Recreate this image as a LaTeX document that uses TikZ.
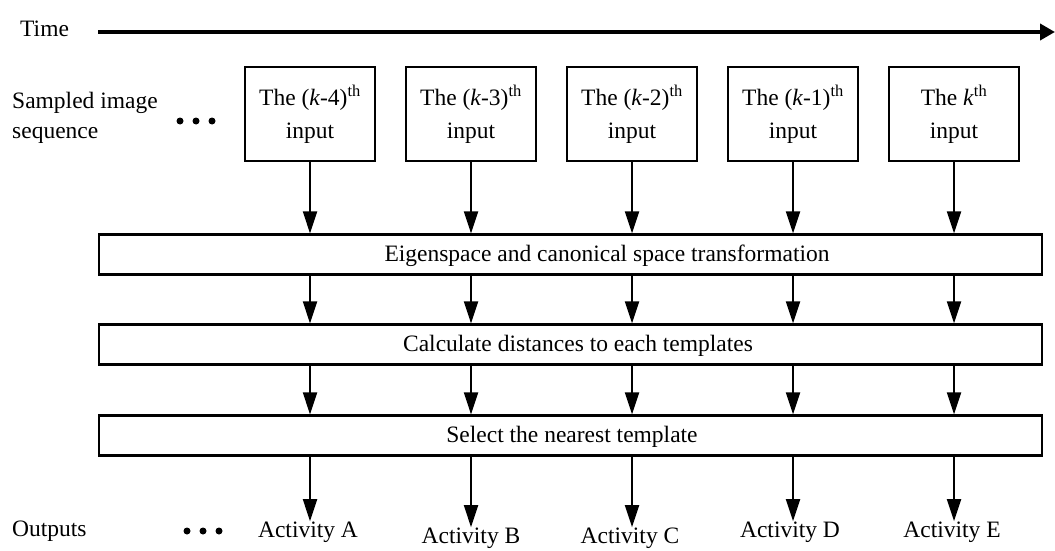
\documentclass[tikz,border=0pt]{standalone}
\usepackage{fontspec}
\setmainfont{Liberation Serif}
\usetikzlibrary{arrows.meta}
\begin{document}
\begin{tikzpicture}[x=1pt,y=-1pt,
  font=\fontsize{23.5}{27}\selectfont,
  inbox/.style={draw,line width=2.2pt,minimum width=130pt,minimum height=94pt,
    align=center,inner sep=0pt},
  wide/.style={draw,line width=2.2pt,minimum width=943pt,minimum height=40pt,inner sep=0pt},
  flow/.style={line width=2pt,-{Triangle[length=22pt,width=14pt]}},
  lbl/.style={inner sep=0pt,anchor=west,align=left},
  dot/.style={circle,fill=black,inner sep=0pt,minimum size=7pt}]
\useasboundingbox (0,0) rectangle (1055,551);

% time axis
\node[lbl] (time) at (20,29) {Time};
\coordinate (t0) at (98,32);
\coordinate (t1) at (1055,32);
\draw[line width=3.8pt,-{Triangle[length=15pt,width=16pt]}] (t0) -- (t1);

% row labels
\node[lbl] (sampled) at (12,118) {Sampled image\\[3pt]sequence};
\node[lbl] (outputs) at (12,531) {Outputs};

% ellipses
\foreach \i/\x in {1/180,2/196,3/212}{
  \node[dot] (sd\i) at (\x,121) {};
  \node[dot] (od\i) at (\x+7,531) {};
}

% sampled inputs
\node[inbox] (in1) at (310,114) {The (\textit{k}-4)\textsuperscript{th}\\[6pt]input};
\node[inbox] (in2) at (471,114) {The (\textit{k}-3)\textsuperscript{th}\\[6pt]input};
\node[inbox] (in3) at (632,114) {The (\textit{k}-2)\textsuperscript{th}\\[6pt]input};
\node[inbox] (in4) at (793,114) {The (\textit{k}-1)\textsuperscript{th}\\[6pt]input};
\node[inbox] (in5) at (954,114) {The \textit{k}\textsuperscript{th}\\[6pt]input};

% processing stages
\node[wide] (eig) at (570.5,254.5) {};
\node (eigt) at (607,256) {Eigenspace and canonical space transformation};
\node[wide] (dist) at (570.5,344.5) {};
\node (distt) at (578,346) {Calculate distances to each templates};
\node[wide] (sel) at (570.5,435.5) {};
\node (selt) at (572,437) {Select the nearest template};

% outputs
\node (oa) at (308,532) {Activity A};
\node (ob) at (471,538) {Activity B};
\node (oc) at (630,538) {Activity C};
\node (od) at (790,532) {Activity D};
\node (oe) at (952,532) {Activity E};

% connectors
\foreach \i/\o in {1/oa,2/ob,3/oc,4/od,5/oe}{
  \draw[flow] (in\i.south) -- (in\i.south |- eig.north);
  \draw[flow] (in\i.south |- eig.south) -- (in\i.south |- dist.north);
  \draw[flow] (in\i.south |- dist.south) -- (in\i.south |- sel.north);
  \draw[flow] (in\i.south |- sel.south) -- ([yshift=-3pt]in\i.south |- \o.north);
}
\end{tikzpicture}
\end{document}
